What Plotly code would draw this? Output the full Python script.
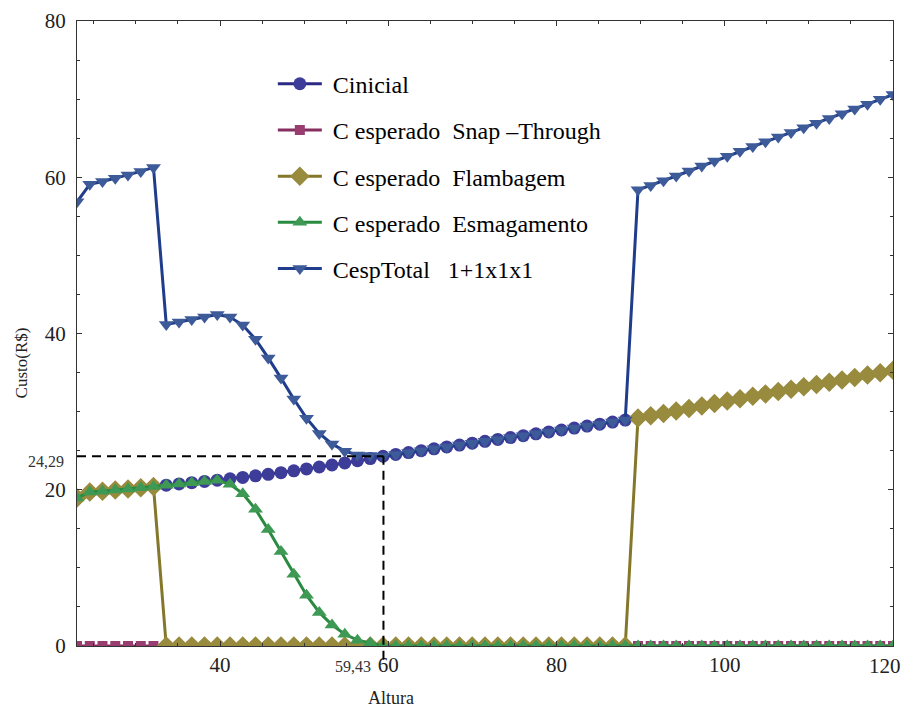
import plotly.graph_objects as go

# Altura (height) sample points
altura = [23.00, 24.52, 26.03, 27.55, 29.06, 30.58, 32.09, 33.61, 35.13, 36.64,
          38.16, 39.67, 41.19, 42.70, 44.22, 45.73, 47.25, 48.77, 50.28, 51.80,
          53.31, 54.83, 56.34, 57.86, 59.38, 60.89, 62.41, 63.92, 65.44, 66.95,
          68.47, 69.98, 71.50, 73.02, 74.53, 76.05, 77.56, 79.08, 80.59, 82.11,
          83.63, 85.14, 86.66, 88.17, 89.69, 91.20, 92.72, 94.23, 95.75, 97.27,
          98.78, 100.30, 101.81, 103.33, 104.84, 106.36, 107.88, 109.39, 110.91, 112.42,
          113.94, 115.45, 116.97, 118.48, 120.00]

c_inicial = [18.95, 19.70, 19.82, 19.96, 20.10, 20.25, 20.42, 20.58, 20.74, 20.90,
             21.06, 21.22, 21.40, 21.58, 21.78, 21.98, 22.19, 22.42, 22.66, 22.91,
             23.17, 23.44, 23.71, 23.99, 24.29, 24.52, 24.76, 25.00, 25.24, 25.48,
             25.72, 25.96, 26.20, 26.44, 26.68, 26.92, 27.16, 27.40, 27.65, 27.90,
             28.15, 28.40, 28.66, 28.92, 29.20, 29.48, 29.77, 30.08, 30.40, 30.72,
             31.04, 31.35, 31.66, 31.97, 32.27, 32.57, 32.87, 33.17, 33.46, 33.76,
             34.06, 34.37, 34.68, 34.99, 35.29]

c_snap = [0.0] * 65

c_flambagem = [18.95, 19.70, 19.82, 19.96, 20.10, 20.25, 20.42, 0, 0, 0,
               0, 0, 0, 0, 0, 0, 0, 0, 0, 0,
               0, 0, 0, 0, 0, 0, 0, 0, 0, 0,
               0, 0, 0, 0, 0, 0, 0, 0, 0, 0,
               0, 0, 0, 0, 29.20, 29.48, 29.77, 30.08, 30.40, 30.72,
               31.04, 31.35, 31.66, 31.97, 32.27, 32.57, 32.87, 33.17, 33.46, 33.76,
               34.06, 34.37, 34.68, 34.99, 35.29]

c_esmagamento = [18.95, 19.70, 19.82, 19.96, 20.10, 20.25, 20.42, 20.58, 20.74, 20.90,
                 21.06, 21.22, 20.70, 19.50, 17.50, 14.90, 12.10, 9.20, 6.50, 4.30,
                 2.70, 1.50, 0.75, 0.40, 0, 0, 0, 0, 0, 0,
                 0, 0, 0, 0, 0, 0, 0, 0, 0, 0,
                 0, 0, 0, 0, 0, 0, 0, 0, 0, 0,
                 0, 0, 0, 0, 0, 0, 0, 0, 0, 0,
                 0, 0, 0, 0, 0]

c_total = [56.85, 59.10, 59.46, 59.88, 60.30, 60.75, 61.26, 41.16, 41.48, 41.80,
           42.12, 42.44, 42.10, 41.08, 39.28, 36.88, 34.29, 31.62, 29.16, 27.21,
           25.87, 24.94, 24.46, 24.39, 24.29, 24.52, 24.76, 25.00, 25.24, 25.48,
           25.72, 25.96, 26.20, 26.44, 26.68, 26.92, 27.16, 27.40, 27.65, 27.90,
           28.15, 28.40, 28.66, 28.92, 58.40, 58.96, 59.54, 60.16, 60.80, 61.44,
           62.08, 62.70, 63.32, 63.94, 64.54, 65.14, 65.74, 66.34, 66.92, 67.52,
           68.12, 68.74, 69.36, 69.98, 70.58]

x_ticks = [40, 60, 80, 100, 120]
y_ticks = [0, 20, 40, 60, 80]

h_otimo = 59.43
c_otimo = 24.29

NB = "\u00a0"
series = [
    ("Cinicial", c_inicial, "circle", 13, "#3d3d99", "#2b2b85"),
    ("C esperado" + NB * 2 + "Snap –Through", c_snap, "square", 10, "#993d71", "#862e60"),
    ("C esperado" + NB * 2 + "Flambagem", c_flambagem, "diamond", 15, "#998b3d", "#85772a"),
    ("C esperado" + NB * 2 + "Esmagamento", c_esmagamento, "triangle-up", 13, "#3d9954", "#2a8a40"),
    ("CespTotal" + NB * 3 + "1+1x1x1", c_total, "triangle-down", 13, "#3d5a99", "#1f3d8a"),
]

serif = "Liberation Serif"
tick_font = dict(family=serif, size=21, color="#222")

fig = go.Figure()
for i, (name, vals, sym, size, mcol, lcol) in enumerate(series):
    fig.add_trace(go.Scatter(
        x=altura, y=vals, name=NB + name, mode="lines+markers",
        legendgroup=f"g{i}", cliponaxis=True,
        line=dict(color=lcol, width=3),
        marker=dict(symbol=sym, size=size, color=mcol, line=dict(width=0)),
    ))

# dashed guides to the optimum
fig.add_shape(type="line", xref="x", yref="y", x0=23, x1=h_otimo, y0=c_otimo, y1=c_otimo,
              line=dict(color="black", width=2, dash="9px,6px"))
fig.add_shape(type="line", xref="x", yref="paper", x0=h_otimo, x1=h_otimo,
              y0=-0.022, y1=c_otimo / 80,
              line=dict(color="black", width=2, dash="9px,6px"))

fig.add_annotation(text="24,29", xref="paper", yref="y", x=-0.014, y=c_otimo,
                   xanchor="right", yanchor="middle", yshift=-5, showarrow=False,
                   font=dict(family=serif, size=16, color="#333"))
fig.add_annotation(text="59,43", xref="x", yref="paper", x=h_otimo, y=-0.033,
                   xanchor="right", yanchor="middle", xshift=-10, showarrow=False,
                   font=dict(family=serif, size=16, color="#333"))
fig.add_annotation(text="Altura", xref="paper", yref="paper", x=0.3846, y=-0.083,
                   xanchor="center", yanchor="middle", showarrow=False,
                   font=dict(family=serif, size=18, color="#222"))
fig.add_annotation(text="Custo(R$)", xref="paper", yref="paper", x=-0.068, y=0.453,
                   xanchor="center", yanchor="middle", textangle=-90, showarrow=False,
                   font=dict(family=serif, size=17, color="#222"))

# the last x label sits at the right border, so it is pulled left to stay inside the page
x_text = [str(v) for v in x_ticks[:-1]] + [""]
fig.add_annotation(text=str(x_ticks[-1]), xref="x", yref="paper", x=x_ticks[-1], y=-0.032,
                   xanchor="right", yanchor="middle", xshift=10, showarrow=False,
                   font=tick_font)

axis_common = dict(
    showgrid=False, zeroline=False, showline=True, linecolor="#333", linewidth=1,
    mirror="ticks", ticks="inside", ticklen=5, tickcolor="#333",
    tickfont=tick_font, automargin=False,
    minor=dict(ticks="inside", ticklen=3, dtick=5, tickcolor="#333", showgrid=False),
)

fig.update_xaxes(range=[23, 120], tickvals=x_ticks, ticktext=x_text, **axis_common)
fig.update_yaxes(range=[0, 80], tickvals=y_ticks, ticklabelstandoff=6, **axis_common)

fig.update_layout(
    width=905, height=709,
    margin=dict(l=77, r=12, t=21, b=63),
    plot_bgcolor="white", paper_bgcolor="white",
    legend=dict(x=0.24, y=0.935, xanchor="left", yanchor="top",
                bgcolor="rgba(0,0,0,0)", borderwidth=0,
                font=dict(family=serif, size=24, color="black"),
                tracegroupgap=12, itemwidth=44),
    showlegend=True,
)

fig.write_html("out.html")
